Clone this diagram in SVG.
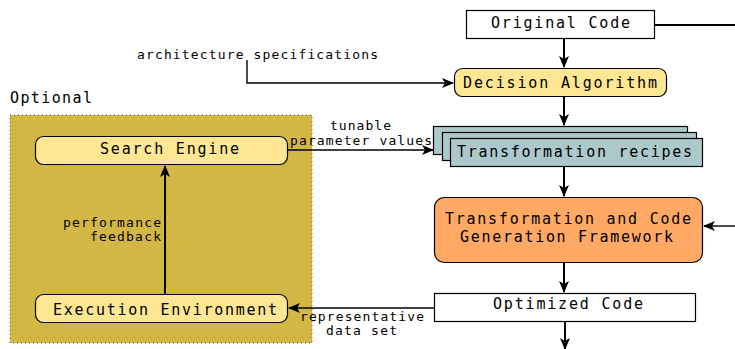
<svg xmlns="http://www.w3.org/2000/svg" width="735" height="349" viewBox="0 0 735 349">
<defs>
<style>
text{font-family:"DejaVu Sans Mono","Liberation Mono",monospace;fill:#000}
.m{font-size:15px}
.s{font-size:13px}
.box{stroke:#000;stroke-width:1.2}
.ln{stroke:#000;stroke-width:2;fill:none}
.ln1{stroke:#000;stroke-width:1.4;fill:none}
</style>
<marker id="ah" viewBox="0 0 12 10" refX="11" refY="5" markerWidth="12" markerHeight="10" markerUnits="userSpaceOnUse" orient="auto">
<path d="M0,0 L12,5 L0,10 L3,5 Z" fill="#000"/>
</marker>
</defs>
<rect width="735" height="349" fill="#fff"/>

<g id="optional">
<rect x="10" y="115" width="302" height="228" fill="#d3b744" stroke="#555" stroke-width="1" stroke-dasharray="1,3"/>
<text class="m" x="10" y="103" textLength="82" lengthAdjust="spacing">Optional</text>
</g>

<g id="connectors">
<line class="ln" x1="655" y1="25" x2="735" y2="25"/>
<line class="ln" x1="564" y1="39" x2="564" y2="67" marker-end="url(#ah)"/>
<polyline class="ln1" points="247,60 247,83 453,83" marker-end="url(#ah)"/>
<line class="ln" x1="564" y1="97" x2="564" y2="125" marker-end="url(#ah)"/>
<line class="ln1" x1="288" y1="150" x2="433" y2="150" marker-end="url(#ah)"/>
<line class="ln" x1="564" y1="167" x2="564" y2="196" marker-end="url(#ah)"/>
<line class="ln1" x1="735" y1="226" x2="704" y2="226" marker-end="url(#ah)"/>
<line class="ln" x1="564" y1="263" x2="564" y2="292" marker-end="url(#ah)"/>
<line class="ln" x1="565" y1="322" x2="565" y2="349" marker-end="url(#ah)"/>
<line class="ln1" x1="434" y1="308" x2="289" y2="308" marker-end="url(#ah)"/>
<line class="ln" x1="165" y1="294" x2="165" y2="166" marker-end="url(#ah)"/>
<text class="s" x="137" y="59" textLength="241" lengthAdjust="spacing">architecture specifications</text>
<text class="s" x="330" y="130" textLength="61" lengthAdjust="spacing">tunable</text>
<text class="s" x="290" y="145" textLength="142" lengthAdjust="spacing">parameter values</text>
<text class="s" x="63" y="227" textLength="98" lengthAdjust="spacing">performance</text>
<text class="s" x="90" y="241" textLength="71" lengthAdjust="spacing">feedback</text>
<text class="s" x="300" y="321" textLength="124" lengthAdjust="spacing">representative</text>
<text class="s" x="326" y="335" textLength="71" lengthAdjust="spacing">data set</text>
</g>

<g id="original-code">
<rect class="box" x="466.5" y="10.5" width="188" height="28" fill="#fff"/>
<text class="m" x="491" y="28" textLength="139" lengthAdjust="spacing">Original Code</text>
</g>

<g id="decision-algorithm">
<rect class="box" x="454.5" y="68.5" width="212" height="28" rx="8" fill="#fee792"/>
<text class="m" x="463" y="88" textLength="194" lengthAdjust="spacing">Decision Algorithm</text>
</g>

<g id="transformation-recipes">
<rect class="box" x="433.5" y="126.5" width="254" height="28" fill="#abc9cb"/>
<rect class="box" x="442.5" y="132.5" width="254" height="28" fill="#abc9cb"/>
<rect class="box" x="450.5" y="138.5" width="252" height="28" fill="#abc9cb"/>
<text class="m" x="457" y="157" textLength="235" lengthAdjust="spacing">Transformation recipes</text>
</g>

<g id="framework">
<rect class="box" x="434.5" y="197.5" width="268" height="65" rx="10" fill="#ffa965"/>
<text class="m" x="445" y="224" textLength="246" lengthAdjust="spacing">Transformation and Code</text>
<text class="m" x="460" y="242" textLength="213" lengthAdjust="spacing">Generation Framework</text>
</g>

<g id="optimized-code">
<rect class="box" x="434.5" y="293.5" width="261" height="28" fill="#fff"/>
<text class="m" x="493" y="309" textLength="150" lengthAdjust="spacing">Optimized Code</text>
</g>

<g id="search-engine">
<rect class="box" x="35.5" y="136.5" width="252" height="28" rx="8" fill="#fee792"/>
<text class="m" x="100" y="154" textLength="139" lengthAdjust="spacing">Search Engine</text>
</g>

<g id="execution-environment">
<rect class="box" x="35.5" y="294.5" width="252" height="28" rx="8" fill="#fee792"/>
<text class="m" x="53" y="315" textLength="224" lengthAdjust="spacing">Execution Environment</text>
</g>
</svg>
